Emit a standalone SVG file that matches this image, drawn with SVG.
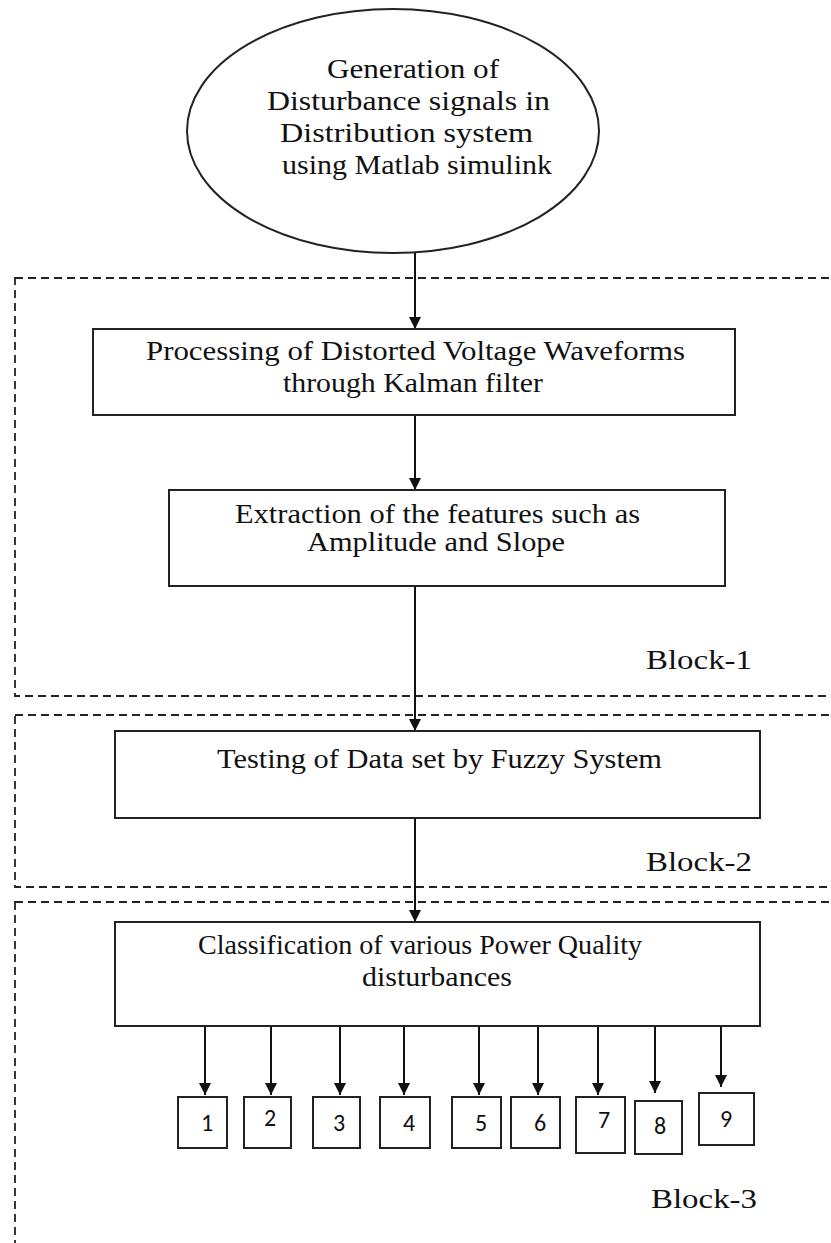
<svg xmlns="http://www.w3.org/2000/svg" width="831" height="1243" viewBox="0 0 831 1243">
<defs>
<marker id="ah" viewBox="0 0 12 12" refX="12" refY="6" markerWidth="13" markerHeight="12" markerUnits="userSpaceOnUse" orient="auto">
<path d="M0,0 L12,6 L0,12 z" fill="#111"/>
</marker>
<style>
.t{font-family:"Liberation Serif","Times New Roman",serif;font-size:27px;fill:#111;text-anchor:start}
.b{fill:#fff;stroke:#222;stroke-width:2}
.d{fill:none;stroke:#222;stroke-width:1.8;stroke-dasharray:8 5}
.n{font-family:"Carlito","Liberation Sans",Arial,sans-serif;font-size:24px;fill:#111;text-anchor:middle}
.c{stroke:#111;stroke-width:2;fill:none;marker-end:url(#ah)}
</style>
</defs>
<rect width="831" height="1243" fill="#fff"/>
<g id="blocks">
<rect class="d" x="15" y="278" width="840" height="418"/>
<rect class="d" x="15" y="715" width="840" height="172"/>
<rect class="d" x="15" y="902" width="840" height="360"/>
<text class="t" x="646" y="669" textLength="106" lengthAdjust="spacingAndGlyphs">Block-1</text>
<text class="t" x="646" y="871" textLength="106" lengthAdjust="spacingAndGlyphs">Block-2</text>
<text class="t" x="651" y="1208" textLength="106" lengthAdjust="spacingAndGlyphs">Block-3</text>
</g>
<g id="connectors">
<line class="c" x1="415" y1="253" x2="415" y2="329"/>
<line class="c" x1="415" y1="415" x2="415" y2="490"/>
<line class="c" x1="415" y1="586" x2="415" y2="731"/>
<line class="c" x1="415" y1="818" x2="415" y2="922"/>
<line class="c" x1="205" y1="1026" x2="205" y2="1095"/>
<line class="c" x1="271" y1="1026" x2="271" y2="1095"/>
<line class="c" x1="340" y1="1026" x2="340" y2="1095"/>
<line class="c" x1="404" y1="1026" x2="404" y2="1095"/>
<line class="c" x1="479" y1="1026" x2="479" y2="1095"/>
<line class="c" x1="538" y1="1026" x2="538" y2="1095"/>
<line class="c" x1="598" y1="1026" x2="598" y2="1095"/>
<line class="c" x1="655" y1="1026" x2="655" y2="1093"/>
<line class="c" x1="721" y1="1026" x2="721" y2="1087"/>
</g>
<g id="source">
<ellipse cx="393" cy="131" rx="206" ry="122" fill="#fff" stroke="#222" stroke-width="2"/>
<text class="t" x="327" y="78" textLength="172" lengthAdjust="spacingAndGlyphs">Generation of</text>
<text class="t" x="267" y="110" textLength="283" lengthAdjust="spacingAndGlyphs">Disturbance signals in</text>
<text class="t" x="280" y="142" textLength="253" lengthAdjust="spacingAndGlyphs">Distribution system</text>
<text class="t" x="282" y="174" textLength="270" lengthAdjust="spacingAndGlyphs">using Matlab simulink</text>
</g>
<g id="processing">
<rect class="b" x="93" y="329" width="642" height="86"/>
<text class="t" x="146" y="360" textLength="539" lengthAdjust="spacingAndGlyphs">Processing of Distorted Voltage Waveforms</text>
<text class="t" x="283" y="392" textLength="260" lengthAdjust="spacingAndGlyphs">through Kalman filter</text>
</g>
<g id="extraction">
<rect class="b" x="169" y="490" width="556" height="96"/>
<text class="t" x="235" y="523" textLength="405" lengthAdjust="spacingAndGlyphs">Extraction of the features such as</text>
<text class="t" x="307" y="551" textLength="258" lengthAdjust="spacingAndGlyphs">Amplitude and Slope</text>
</g>
<g id="testing">
<rect class="b" x="115" y="731" width="645" height="87"/>
<text class="t" x="217" y="768" textLength="445" lengthAdjust="spacingAndGlyphs">Testing of Data set by Fuzzy System</text>
</g>
<g id="classification">
<rect class="b" x="115" y="922" width="645" height="104"/>
<text class="t" x="198" y="954" textLength="444" lengthAdjust="spacingAndGlyphs">Classification of various Power Quality</text>
<text class="t" x="362" y="986" textLength="150" lengthAdjust="spacingAndGlyphs">disturbances</text>
</g>
<g id="class-1"><rect class="b" x="178" y="1097" width="49" height="51"/><text class="n" x="207" y="1131">1</text></g>
<g id="class-2"><rect class="b" x="244" y="1097" width="47" height="51"/><text class="n" x="270" y="1126">2</text></g>
<g id="class-3"><rect class="b" x="313" y="1097" width="47" height="51"/><text class="n" x="339" y="1131">3</text></g>
<g id="class-4"><rect class="b" x="380" y="1097" width="50" height="51"/><text class="n" x="409" y="1131">4</text></g>
<g id="class-5"><rect class="b" x="452" y="1097" width="49" height="51"/><text class="n" x="481" y="1131">5</text></g>
<g id="class-6"><rect class="b" x="511" y="1097" width="49" height="51"/><text class="n" x="540" y="1131">6</text></g>
<g id="class-7"><rect class="b" x="576" y="1097" width="49" height="56"/><text class="n" x="604" y="1128">7</text></g>
<g id="class-8"><rect class="b" x="635" y="1101" width="47" height="53"/><text class="n" x="660" y="1134">8</text></g>
<g id="class-9"><rect class="b" x="699" y="1093" width="55" height="52"/><text class="n" x="726" y="1127">9</text></g>
</svg>
